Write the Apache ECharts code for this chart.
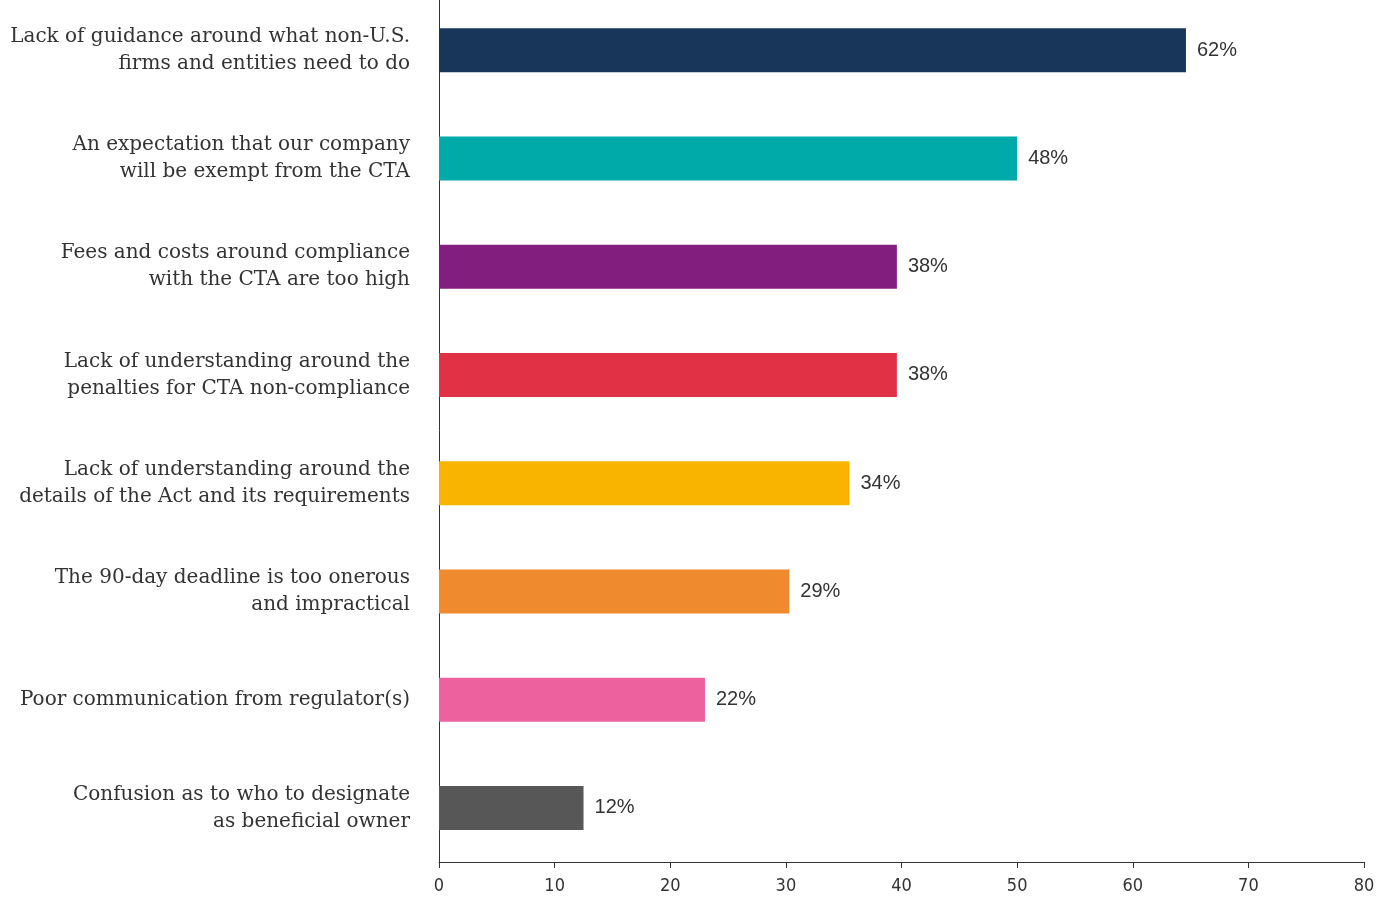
<!DOCTYPE html>
<html>
<head>
<meta charset="utf-8">
<script src="https://cdn.jsdelivr.net/npm/echarts@6/dist/echarts.min.js"></script>
<style>
html,body{margin:0;padding:0;background:#fff;}
#chart{width:1390px;height:898px;}
</style>
</head>
<body>
<div id="chart"></div>
<script>
const categories = [
  "Lack of guidance around what non-U.S.\nfirms and entities need to do",
  "An expectation that our company\nwill be exempt from the CTA",
  "Fees and costs around compliance\nwith the CTA are too high",
  "Lack of understanding around the\npenalties for CTA non-compliance",
  "Lack of understanding around the\ndetails of the Act and its requirements",
  "The 90-day deadline is too onerous\nand impractical",
  "Poor communication from regulator(s)",
  "Confusion as to who to designate\nas beneficial owner"
];
const values = [64.6, 50.0, 39.6, 39.6, 35.5, 30.3, 23.0, 12.5];
const valueLabels = ["62%", "48%", "38%", "38%", "34%", "29%", "22%", "12%"];
const colors = ["#17365a", "#00aaa8", "#821e7e", "#e03145", "#f9b400", "#f08a2f", "#ec619e", "#575757"];
const xTicks = [0, 10, 20, 30, 40, 50, 60, 70, 80];

const chart = echarts.init(document.getElementById('chart'));
chart.setOption({
  animation: false,
  backgroundColor: '#fff',
  grid: { left: 439, right: 26, top: -4, bottom: 36, containLabel: false, outerBoundsMode: 'none' },
  xAxis: {
    type: 'value', min: xTicks[0], max: xTicks[xTicks.length - 1], interval: 10,
    axisLine: { show: true, lineStyle: { color: '#333', width: 1 } },
    axisTick: { show: true, length: 6, lineStyle: { color: '#333' } },
    axisLabel: { color: '#333', fontSize: 18, fontFamily: 'DejaVu Sans Condensed, DejaVu Sans', margin: 15 },
    splitLine: { show: false }
  },
  yAxis: {
    type: 'category', data: categories, inverse: true,
    axisLine: { show: true, lineStyle: { color: '#333', width: 1 } },
    axisTick: { show: false },
    axisLabel: { color: '#333', fontSize: 20, fontFamily: 'DejaVu Serif', lineHeight: 27, margin: 29, align: 'right' }
  },
  series: [{
    type: 'bar',
    barWidth: 44,
    data: values.map((v, i) => ({ value: v, itemStyle: { color: colors[i] } })),
    label: {
      show: true, position: 'right', distance: 11,
      color: '#333', fontSize: 20, fontFamily: 'Liberation Sans, Arial',
      formatter: p => valueLabels[p.dataIndex]
    }
  }]
});
</script>
</body>
</html>
